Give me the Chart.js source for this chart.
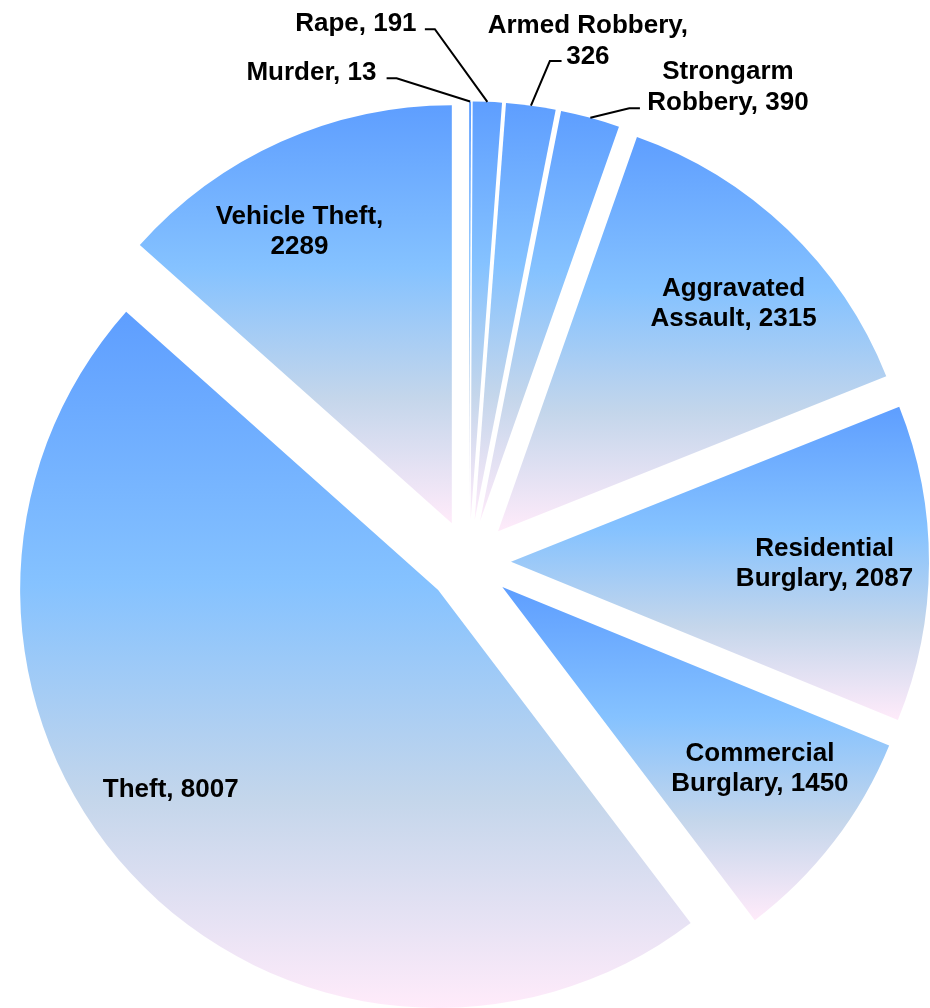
<!DOCTYPE html>
<html>
<head>
<meta charset="utf-8">
<script src="https://cdn.jsdelivr.net/npm/chart.js@4.4.1/dist/chart.umd.min.js"></script>
<style>
  body { margin: 0; background: #fff; }
  #box { width: 930px; height: 1008px; position: relative; }
</style>
</head>
<body>
<div id="box"><canvas id="crimes"></canvas></div>
<script>
// data
var categories = ['Murder', 'Rape', 'Armed Robbery', 'Strongarm Robbery', 'Aggravated Assault',
                  'Residential Burglary', 'Commercial Burglary', 'Theft', 'Vehicle Theft'];
var counts = [13, 191, 326, 390, 2315, 2087, 1450, 8007, 2289];

// look
var EXPLODE = 42;        // px each slice is pulled out
var RADIUS = 418;
var FONT_SIZE = 26;
var LINE_H = 30.5;
var WRAP = 210;
// label placement: inside labels as (fraction of radius, turn in degrees),
// outside labels as leader elbow (dx, dy, tick) and text centre (dx, dy) from the slice rim
var labelSpots = [
  { elbow: [-73.5, -23.2, -10], text: [-158.7, -30.5] },
  { elbow: [-52.5, -72.6, -10], text: [-131.5, -80.2] },
  { elbow: [18.9, -44.6, 11.7], text: [56.9, -66.7] },
  { elbow: [38.9, -9.5, 10.7], text: [137.6, -32.4] },
  { r: 0.787, turn: 1.9 },
  { r: 0.75, turn: -0.2 },
  { r: 0.751, turn: -2.7 },
  { r: 0.795, turn: 6.3 },
  { r: 0.791, turn: -3.3 }
];

// exploded slices: shift every arc along its bisector, same radius for all
var arcDraw = Chart.ArcElement.prototype.draw;
Chart.ArcElement.prototype.draw = function (ctx) {
  var mid = (this.startAngle + this.endAngle) / 2;
  ctx.save();
  ctx.translate(Math.cos(mid) * EXPLODE, Math.sin(mid) * EXPLODE);
  arcDraw.call(this, ctx);
  ctx.restore();
};

// "Daybreak" gradient, top to bottom of each slice
function sliceFill(c) {
  var arc = c.element;
  if (!arc || arc.outerRadius === undefined) { return '#85c2ff'; }
  var s = arc.startAngle, e = arc.endAngle, R = arc.outerRadius;
  var top = arc.y, bottom = arc.y;
  var angles = [s, e];
  for (var k = -4; k <= 8; k++) {
    var a = k * Math.PI / 2;
    if (a > s && a < e) { angles.push(a); }
  }
  angles.forEach(function (a) {
    var py = arc.y + Math.sin(a) * R;
    top = Math.min(top, py);
    bottom = Math.max(bottom, py);
  });
  var g = c.chart.ctx.createLinearGradient(0, top, 0, bottom);
  g.addColorStop(0, '#5e9eff');
  g.addColorStop(0.39, '#85c2ff');
  g.addColorStop(0.7, '#c4d6eb');
  g.addColorStop(1, '#ffebfa');
  return g;
}

function wrapText(ctx, text) {
  var words = text.split(' ');
  var lines = [];
  var cur = '';
  words.forEach(function (w) {
    var test = cur ? cur + ' ' + w : w;
    if (cur && ctx.measureText(test).width > WRAP) {
      lines.push(cur);
      cur = w;
    } else {
      cur = test;
    }
  });
  lines.push(cur);
  return lines;
}

var sliceLabels = {
  id: 'sliceLabels',
  afterDatasetsDraw: function (chart) {
    var ctx = chart.ctx;
    var arcs = chart.getDatasetMeta(0).data;
    ctx.save();
    ctx.font = 'bold ' + FONT_SIZE + 'px "Liberation Sans", Arial, sans-serif';
    ctx.fillStyle = '#000';
    ctx.strokeStyle = '#000';
    ctx.lineWidth = 2;
    ctx.textAlign = 'center';
    ctx.textBaseline = 'alphabetic';
    arcs.forEach(function (arc, i) {
      var mid = (arc.startAngle + arc.endAngle) / 2;
      var cx = arc.x + Math.cos(mid) * EXPLODE;
      var cy = arc.y + Math.sin(mid) * EXPLODE;
      var spot = labelSpots[i];
      var lines = wrapText(ctx, categories[i] + ', ' + counts[i]);
      var tx, ty;
      if (spot.elbow) {
        var ax = cx + Math.cos(mid) * arc.outerRadius;
        var ay = cy + Math.sin(mid) * arc.outerRadius;
        var ex = ax + spot.elbow[0], ey = ay + spot.elbow[1];
        ctx.beginPath();
        ctx.moveTo(ax, ay);
        ctx.lineTo(ex, ey);
        ctx.lineTo(ex + spot.elbow[2], ey);
        ctx.stroke();
        tx = ax + spot.text[0];
        ty = ay + spot.text[1];
      } else {
        var a = mid + spot.turn * Math.PI / 180;
        tx = cx + Math.cos(a) * arc.outerRadius * spot.r;
        ty = cy + Math.sin(a) * arc.outerRadius * spot.r;
      }
      lines.forEach(function (line, n) {
        var ly = ty + (n - (lines.length - 1) / 2) * LINE_H;
        ctx.fillText(line, tx, ly + FONT_SIZE * 0.358);
      });
    });
    ctx.restore();
  }
};

var chart = new Chart(document.getElementById('crimes'), {
  type: 'pie',
  data: {
    labels: categories,
    datasets: [{
      data: counts,
      backgroundColor: sliceFill,
      borderWidth: 0
    }]
  },
  options: {
    responsive: true,
    maintainAspectRatio: false,
    animation: false,
    events: [],
    radius: RADIUS,
    layout: { padding: { left: 8, right: 0, top: 115, bottom: 0 } },
    plugins: {
      legend: { display: false },
      tooltip: { enabled: false }
    }
  },
  plugins: [sliceLabels]
});
// second pass so the gradients can use the slice positions
chart.update();
</script>
</body>
</html>
